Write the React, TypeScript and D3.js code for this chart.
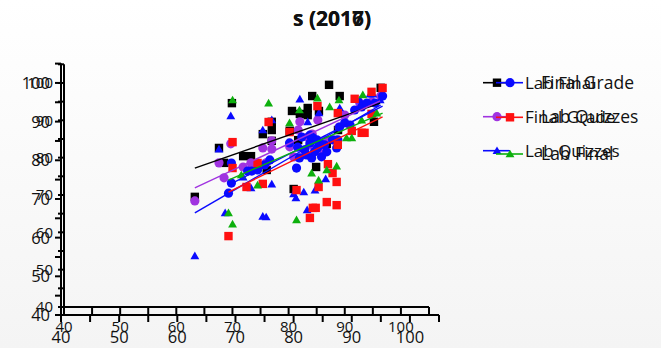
import * as d3 from "d3";

const W = 661;
const H = 348;

const titleA = "s (2016)";
const titleB = "s (2017)";
const tickLabels = [40, 50, 60, 70, 80, 90, 100];
const tickMarks = d3.range(40, 106, 5);

// first overlay (black / purple / blue triangle)
const labFinalA: [number, number][] = [
  [63.3, 69.5], [67.6, 82.6], [68.5, 78.6], [69.9, 94.6], [71.9, 80.4], [73.3, 80.4],
  [75.4, 86.3], [76.1, 76.7], [77.0, 89.6], [77.0, 87.4], [77.0, 84.5], [80.2, 87.2],
  [80.6, 92.5], [80.9, 71.6], [81.7, 84.7], [82.0, 91.7], [83.4, 93.3], [83.4, 91.4],
  [84.2, 96.5], [84.9, 77.5], [85.4, 92.5], [86.8, 83.7], [87.2, 99.5], [88.8, 87.4],
  [89.1, 96.5], [95.2, 89.6], [96.4, 98.7],
];
const finalGradeA: [number, number][] = [
  [63.3, 68.4], [67.6, 78.6], [68.5, 74.6], [69.7, 83.7], [71.9, 77.5], [73.3, 78.6],
  [75.4, 82.6], [76.0, 78.6], [77.0, 84.5], [77.0, 82.3], [80.2, 82.9], [80.9, 80.2],
  [81.7, 87.4], [82.0, 89.6], [82.9, 81.5], [83.4, 85.5], [83.8, 83.4], [84.2, 86.3],
  [84.7, 81.8], [85.2, 90.1], [85.6, 83.4], [86.0, 82.1], [86.6, 84.7], [88.2, 84.7],
  [89.0, 88.2], [90.0, 91.4], [92.7, 94.6], [94.8, 94.9], [96.4, 96.5],
];
const labQuizzesA: [number, number][] = [
  [63.3, 53.7], [67.6, 82.3], [68.7, 65.2], [69.7, 91.2], [71.9, 74.8], [73.3, 71.9],
  [75.4, 87.4], [75.4, 64.3], [76.0, 64.1], [77.0, 90.1], [77.0, 72.9], [80.9, 70.3],
  [81.3, 69.2], [82.0, 95.7], [82.7, 70.8], [83.3, 66.0], [83.4, 89.6], [84.7, 71.3],
  [85.4, 92.0], [86.6, 74.3], [89.1, 93.3], [92.7, 95.5], [94.5, 97.0], [95.0, 97.0],
  [96.3, 95.5],
];
// second overlay (blue circle / red square / green triangle)
const finalGradeB: [number, number][] = [
  [68.8, 71.5], [69.3, 79.3], [69.3, 74.1], [72.1, 77.2], [72.8, 77.2], [73.8, 77.5],
  [75.0, 78.8], [75.9, 80.1], [79.3, 84.5], [80.5, 78.0], [80.7, 83.4], [81.0, 80.6],
  [81.4, 86.0], [81.9, 82.7], [82.2, 81.4], [82.8, 84.5], [82.8, 86.5], [83.1, 80.6],
  [83.3, 85.8], [83.6, 82.2], [84.0, 85.3], [84.1, 83.2], [84.5, 84.5], [84.8, 80.9],
  [85.3, 84.0], [85.7, 82.2], [86.7, 85.3], [87.4, 83.2], [87.6, 85.3], [87.9, 88.6],
  [88.8, 89.7], [89.7, 89.1], [90.5, 93.0], [91.7, 93.8], [92.6, 94.8], [94.0, 94.8],
  [95.3, 96.6],
];
const labQuizzesB: [number, number][] = [
  [68.8, 60.4], [69.5, 84.7], [69.5, 78.0], [71.9, 73.1], [73.8, 79.3], [74.7, 73.9],
  [75.7, 89.9], [79.3, 87.3], [80.5, 72.3], [82.8, 65.1], [83.3, 67.7], [83.8, 67.7],
  [84.3, 73.1], [84.1, 94.0], [85.7, 69.2], [85.9, 79.0], [86.7, 76.7], [87.4, 74.4],
  [87.4, 68.4], [87.6, 92.2], [87.6, 84.0], [90.0, 87.6], [90.5, 95.9], [91.7, 87.1],
  [92.2, 87.1], [93.4, 97.7], [93.4, 92.0], [95.3, 98.7],
];
const labFinalB: [number, number][] = [
  [68.8, 66.4], [69.5, 95.6], [69.5, 63.5], [71.0, 76.2], [73.8, 73.6], [75.7, 94.8],
  [79.3, 89.7], [80.5, 64.6], [81.0, 93.0], [83.1, 76.7], [84.1, 96.1], [84.3, 74.9],
  [85.7, 77.5], [86.2, 93.8], [87.4, 78.5], [87.8, 95.6], [89.1, 85.8], [90.0, 85.8],
  [91.7, 90.4], [91.9, 96.9], [94.3, 92.2],
];

// fitted lines [x0, y0, x1, y1]
const fitLabFinalA = [63.3, 77.2, 96.3, 94.6];
const fitFinalGradeA = [63.3, 71.9, 96.3, 95.2];
const fitLabQuizzesA = [63.3, 65.2, 96.4, 94.1];
const fitFinalGradeB = [68.8, 73.6, 95.3, 94.0];
const fitLabQuizzesB = [68.8, 71.8, 95.3, 91.2];
const fitLabFinalB = [68.8, 74.9, 95.3, 92.2];

type Shape = "square" | "circle" | "triangle";
type Series = { name: string; color: string; shape: Shape; pts: [number, number][]; fit: number[] };

const BLUE = "#0a0aff";
const PURPLE = "#a033e0";
const RED = "#ff1010";
const GREEN = "#0db00d";

const seriesA: Series[] = [
  { name: "Lab Final", color: "#000", shape: "square", pts: labFinalA, fit: fitLabFinalA },
  { name: "Final Grade", color: PURPLE, shape: "circle", pts: finalGradeA, fit: fitFinalGradeA },
  { name: "Lab Quizzes", color: BLUE, shape: "triangle", pts: labQuizzesA, fit: fitLabQuizzesA },
];
const seriesB: Series[] = [
  { name: "Final Grade", color: BLUE, shape: "circle", pts: finalGradeB, fit: fitFinalGradeB },
  { name: "Lab Quizzes", color: RED, shape: "square", pts: labQuizzesB, fit: fitLabQuizzesB },
  { name: "Lab Final", color: GREEN, shape: "triangle", pts: labFinalB, fit: fitLabFinalB },
];

const tri = d3.symbol().type(d3.symbolTriangle).size(34)() as string;

function Marker({ shape, color, x, y }: { shape: Shape; color: string; x: number; y: number }) {
  if (shape === "square") return <rect x={x - 4.2} y={y - 4.2} width={8.4} height={8.4} fill={color} />;
  if (shape === "circle") return <circle cx={x} cy={y} r={4.6} fill={color} />;
  return <path d={tri} transform={`translate(${x},${y + 0.8})`} fill={color} />;
}

type PlotCfg = {
  x: d3.ScaleLinear<number, number>;
  y: d3.ScaleLinear<number, number>;
  series: Series[];
  title: string;
  fontX: number;
  labelDy: number;
  legX: number;
  legRows: number[];
  legText: number;
  legFont: number;
};

const plotA: PlotCfg = {
  x: d3.scaleLinear([40, 105], [64, 429]),
  y: d3.scaleLinear([40, 105], [307, 64.3]),
  series: seriesA,
  title: titleA,
  fontX: 15,
  labelDy: 25,
  legX: 497,
  legRows: [82.7, 116.7, 150.7],
  legText: 525,
  legFont: 17,
};
const plotB: PlotCfg = {
  x: d3.scaleLinear([40, 105], [61, 439]),
  y: d3.scaleLinear([40, 105], [315, 63.6]),
  series: seriesB,
  title: titleB,
  fontX: 16.5,
  labelDy: 28,
  legX: 510,
  legRows: [82.7, 117.3, 154],
  legText: 541,
  legFont: 17.5,
};

const FONT = "'Open Sans', 'Noto Sans', sans-serif";

function Axes({ p }: { p: PlotCfg }) {
  const x0 = p.x(40);
  const y0 = p.y(40);
  return (
    <g stroke="#000" strokeWidth={2}>
      <line x1={x0} x2={p.x(105)} y1={y0} y2={y0} />
      <line x1={x0} x2={x0} y1={y0} y2={p.y(105)} />
      {tickMarks.map((t) => (
        <g key={t}>
          <line x1={p.x(t)} x2={p.x(t)} y1={y0} y2={y0 + 7} />
          <line x1={x0} x2={x0 - 6} y1={p.y(t)} y2={p.y(t)} />
        </g>
      ))}
      {tickLabels.map((t) => (
        <g key={"l" + t} stroke="none" fill="#111" fontFamily={FONT} fontSize={p.fontX}>
          <text x={p.x(t)} y={y0 + p.labelDy} textAnchor="middle">{t}</text>
          <text x={x0 - 11} y={p.y(t)} dy="0.36em" textAnchor="end">{t}</text>
        </g>
      ))}
    </g>
  );
}

function Marks({ p }: { p: PlotCfg }) {
  return (
    <g>
      {p.series.map((s) => (
        <g key={s.name}>
          {s.pts.map(([a, b], i) => (
            <Marker key={i} shape={s.shape} color={s.color} x={p.x(a)} y={p.y(b)} />
          ))}
        </g>
      ))}
    </g>
  );
}

function Fits({ p }: { p: PlotCfg }) {
  return (
    <g>
      {p.series.map((s) => (
        <line
          key={s.name}
          x1={p.x(s.fit[0])}
          y1={p.y(s.fit[1])}
          x2={p.x(s.fit[2])}
          y2={p.y(s.fit[3])}
          stroke={s.color}
          strokeWidth={1.4}
        />
      ))}
    </g>
  );
}

function Legend({ p }: { p: PlotCfg }) {
  return (
    <g>
      {p.series.map((s, i) => {
        const y = p.legRows[i];
        return (
          <g key={s.name}>
            <line x1={p.legX - 14} x2={p.legX + 13} y1={y} y2={y} stroke={s.color} strokeWidth={1.6} />
            <Marker shape={s.shape} color={s.color} x={p.legX} y={y} />
            <text x={p.legText} y={y + 6} fontFamily={FONT} fontSize={p.legFont} fill="#111">
              {s.name}
            </text>
          </g>
        );
      })}
    </g>
  );
}

export default function App() {
  return (
    <svg
      width={W}
      height={H}
      viewBox={`0 0 ${W} ${H}`}
      style={{ position: "absolute", left: 0, top: 0 }}
    >
      <defs>
        <linearGradient id="bg" x1="0" y1="0" x2="0" y2="1">
          <stop offset="0" stopColor="#ffffff" />
          <stop offset="1" stopColor="#f4f4f4" />
        </linearGradient>
      </defs>
      <rect width={W} height={H} fill="url(#bg)" />
      {[plotA, plotB].map((p, i) => (
        <text key={i} x={293} y={26} fontFamily={FONT} fontWeight={700} fontSize={21} fill="#111">
          {p.title}
        </text>
      ))}
      <Axes p={plotA} />
      <Axes p={plotB} />
      <Marks p={plotA} />
      <Marks p={plotB} />
      <Fits p={plotA} />
      <Fits p={plotB} />
      <Legend p={plotA} />
      <Legend p={plotB} />
    </svg>
  );
}
